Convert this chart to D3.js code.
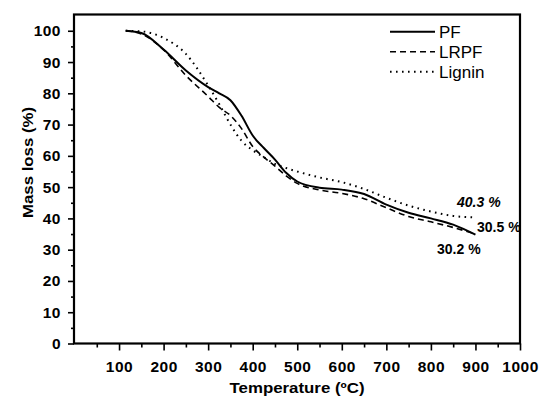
<!DOCTYPE html>
<html>
<head>
<meta charset="utf-8">
<script src="https://cdn.jsdelivr.net/npm/d3@7"></script>
<style>
  body { margin: 0; background: white; }
</style>
</head>
<body>
<div id="container"></div>
<script>
// data
let temps = [115, 150, 200, 250, 300, 325, 350, 375, 400, 425, 450, 475, 500, 550, 600, 650, 700, 750, 800, 850, 900];
let pfMass = [100, 99.3, 94.0, 87.3, 82.0, 80.0, 77.8, 72.8, 66.5, 62.5, 58.8, 54.6, 51.8, 49.8, 49.2, 47.8, 44.4, 41.8, 40.0, 38.0, 34.8];
let lrpfMass = [100, 99.0, 93.9, 85.7, 79.0, 75.5, 72.9, 68.7, 63.0, 59.6, 56.7, 53.6, 51.2, 49.1, 48.0, 46.3, 43.4, 40.6, 38.9, 37.1, 35.0];
let ligninMass = [100, 99.8, 97.7, 92.6, 82.5, 76.5, 70.0, 64.8, 61.8, 59.6, 57.4, 56.1, 55.0, 53.1, 51.6, 49.4, 46.6, 44.1, 42.2, 40.8, 40.3];
let seriesNames = ["PF", "LRPF", "Lignin"];
let endLabels = ["30.5 %", "30.2 %", "40.3 %"];
let xTicks = [100, 200, 300, 400, 500, 600, 700, 800, 900, 1000];
let yTicks = [0, 10, 20, 30, 40, 50, 60, 70, 80, 90, 100];

let w = 540;
let h = 401;
let viz = d3.select("#container").append("svg")
    .attr("width", w)
    .attr("height", h)
    .style("background-color", "white")
    .style("font-family", "'Liberation Sans', Arial, sans-serif");

let plotLeft = 74, plotRight = 520, plotTop = 14.5, plotBottom = 343.5;

let xScale = d3.scaleLinear().domain([0, 1000]).range([plotLeft + 0.5, plotRight]);
let yScale = d3.scaleLinear().domain([0, 105.2]).range([plotBottom, plotTop]);

// minor ticks first, then the major axis with labels
let xMinor = d3.axisBottom(xScale).tickValues(d3.range(50, 1000, 100)).tickSize(4).tickFormat("");
viz.append("g").attr("class", "xMinor")
    .attr("transform", "translate(0," + plotBottom + ")")
    .call(xMinor);
let xAxis = d3.axisBottom(xScale).tickValues(xTicks).tickSize(7).tickPadding(10).tickFormat(d3.format("d"));
let xAxisGroup = viz.append("g").attr("class", "xAxis")
    .attr("transform", "translate(0," + plotBottom + ")")
    .call(xAxis);

let yMinor = d3.axisLeft(yScale).tickValues(d3.range(5, 105, 10)).tickSize(3).tickFormat("");
viz.append("g").attr("class", "yMinor")
    .attr("transform", "translate(" + plotLeft + ",0)")
    .call(yMinor);
let yAxis = d3.axisLeft(yScale).tickValues(yTicks).tickSize(6).tickPadding(7).tickFormat(d3.format("d"));
let yAxisGroup = viz.append("g").attr("class", "yAxis")
    .attr("transform", "translate(" + plotLeft + ",0)")
    .call(yAxis);

viz.selectAll(".xAxis .domain, .yAxis .domain, .xMinor .domain, .yMinor .domain").remove();
viz.selectAll(".tick line").attr("stroke", "black").attr("stroke-width", 1.6);
viz.selectAll(".xAxis text, .yAxis text")
    .attr("fill", "black")
    .style("font-size", "15.5px")
    .style("letter-spacing", "0.5px")
    .style("font-weight", "bold")
    .style("font-family", "'Liberation Sans', Arial, sans-serif");

// frame
viz.append("rect")
    .attr("x", plotLeft)
    .attr("y", plotTop)
    .attr("width", plotRight - plotLeft)
    .attr("height", plotBottom - plotTop)
    .attr("fill", "none")
    .attr("stroke", "black")
    .attr("stroke-width", 2.2);

// axis titles (the original lettering is a bit wide, so stretch to its length)
viz.append("text")
    .attr("x", (plotLeft + plotRight) / 2 - 67.5)
    .attr("y", 393)
    .attr("textLength", 135)
    .attr("lengthAdjust", "spacingAndGlyphs")
    .style("font-size", "14.5px")
    .style("font-weight", "bold")
    .text("Temperature (ºC)");

viz.append("text")
    .attr("transform", "translate(33,218) rotate(-90)")
    .attr("textLength", 111)
    .attr("lengthAdjust", "spacingAndGlyphs")
    .style("font-size", "15px")
    .style("font-weight", "bold")
    .text("Mass loss (%)");

// curves
let styles = [
    { dash: null, width: 2 },
    { dash: "6,4", width: 1.6 },
    { dash: "1.6,4.4", width: 2 }
];
let allSeries = [pfMass, lrpfMass, ligninMass];

let lineMaker = d3.line()
    .x(function(d, i) { return xScale(temps[i]); })
    .y(function(d) { return yScale(d); })
    .curve(d3.curveMonotoneX);

for (let s = 0; s < allSeries.length; s++) {
    viz.append("path")
        .datum(allSeries[s])
        .attr("d", lineMaker)
        .attr("fill", "none")
        .attr("stroke", "black")
        .attr("stroke-width", styles[s].width)
        .attr("stroke-dasharray", styles[s].dash);
}

// legend
let legendY = [31.7, 51.7, 71.7];
for (let s = 0; s < seriesNames.length; s++) {
    viz.append("line")
        .attr("x1", 390).attr("x2", 435)
        .attr("y1", legendY[s]).attr("y2", legendY[s])
        .attr("stroke", "black")
        .attr("stroke-width", styles[s].width)
        .attr("stroke-dasharray", styles[s].dash);
    viz.append("text")
        .attr("x", 439)
        .attr("y", legendY[s] + 6)
        .style("font-size", "17px")
        .text(seriesNames[s]);
}

// end-point labels
let labelPos = [[477, 232, "normal"], [437, 254, "normal"], [457, 207, "italic"]];
for (let s = 0; s < endLabels.length; s++) {
    viz.append("text")
        .attr("x", labelPos[s][0])
        .attr("y", labelPos[s][1])
        .style("font-size", "14px")
        .style("font-weight", "bold")
        .style("font-style", labelPos[s][2])
        .text(endLabels[s]);
}
</script>
</body>
</html>
